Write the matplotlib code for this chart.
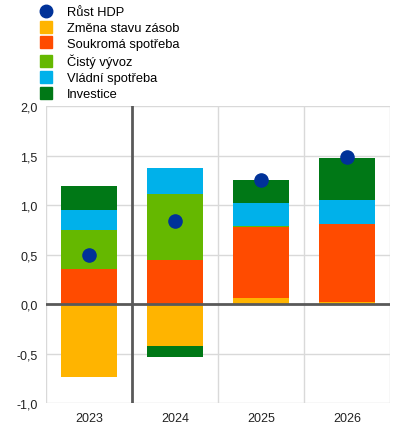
import numpy as np
import matplotlib
matplotlib.use('Agg')
import matplotlib.pyplot as plt
from matplotlib.lines import Line2D

plt.rcParams['font.family'] = ['Arial', 'Liberation Sans', 'DejaVu Sans']

# data
years = ['2023', '2024', '2025', '2026']
gdp = [0.50, 0.84, 1.26, 1.49]
zasoby = [-0.73, -0.42, 0.06, 0.02]
soukroma = [0.36, 0.45, 0.72, 0.79]
vyvoz = [0.39, 0.66, 0.01, 0.0]
vladni = [0.20, 0.27, 0.23, 0.24]
investice = [0.25, -0.11, 0.24, 0.43]

series = [
    ('Změna stavu zásob', zasoby, '#FFB400'),
    ('Soukromá spotřeba', soukroma, '#FF4B00'),
    ('Čistý vývoz', vyvoz, '#65B800'),
    ('Vládní spotřeba', vladni, '#00B1EA'),
    ('Investice', investice, '#007816'),
]

fig = plt.figure(figsize=(3.93, 4.31), dpi=100)
ax = fig.add_axes([0.117, 0.062, 0.875, 0.689])

x = np.arange(len(years))
pos_base = np.zeros(len(years))
neg_base = np.zeros(len(years))
for name, vals, col in series:
    v = np.array(vals)
    base = np.where(v >= 0, pos_base, neg_base)
    ax.bar(x, v, bottom=base, width=0.66, color=col, zorder=3)
    pos_base += np.where(v >= 0, v, 0)
    neg_base += np.where(v < 0, v, 0)

ax.scatter(x, gdp, s=90, color='#003299', zorder=5)

ax.set_xlim(-0.5, 3.5)
ax.set_ylim(-1.0, 2.0)
ticks = np.arange(-1.0, 2.01, 0.5)
ax.set_yticks(ticks)
ax.set_yticklabels([f'{t:.1f}'.replace('.', ',') for t in ticks])
ax.set_xticks(x)
ax.set_xticklabels(years)
ax.tick_params(length=0, labelsize=9, colors='#222222', pad=6)

for yv in ticks:
    ax.axhline(yv, color='#d9d9d9', lw=1, zorder=1)
for xv in [-0.5, 1.5, 2.5, 3.5]:
    ax.axvline(xv, color='#d9d9d9', lw=1, zorder=1)
ax.axvline(0.5, color='#595959', lw=2, zorder=4)
ax.axhline(0, color='#595959', lw=2, zorder=4)
for s in ax.spines.values():
    s.set_visible(False)

handles = [Line2D([], [], marker='o', ls='', color='#003299', markersize=9)]
labels = ['Růst HDP']
for name, vals, col in series:
    handles.append(Line2D([], [], marker='s', ls='', color=col, markersize=9))
    labels.append(name)
fig.legend(handles, labels, loc='upper left', bbox_to_anchor=(0.08, 1.0),
           frameon=False, fontsize=9.3, handletextpad=1.0, labelspacing=0.3,
           handlelength=1.2, borderpad=0.05)

fig.savefig('out.png', dpi=100)
